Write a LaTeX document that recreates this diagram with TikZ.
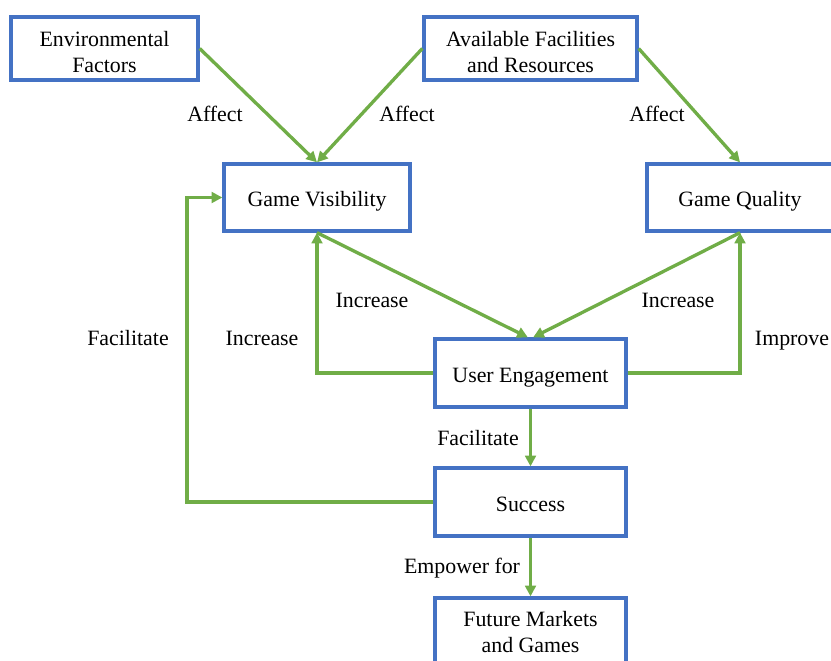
\documentclass[tikz,border=0pt]{standalone}
\usepackage{fontspec}
\setmainfont{Liberation Serif}
\usetikzlibrary{arrows.meta}
\definecolor{boxblue}{RGB}{68,114,196}
\definecolor{arrgreen}{RGB}{112,173,71}
\begin{document}
\begin{tikzpicture}[x=0.75pt,y=-0.75pt,
  box/.style={draw=boxblue,line width=2.5pt,fill=white,inner sep=0pt,align=center,text depth=0pt,
    font=\fontsize{16.4}{19.6}\selectfont},
  onebox/.style={box,text height=14pt,text depth=0pt},
  twobox/.style={box,text height=35.5pt,text depth=0pt},
  conn/.style={draw=arrgreen,line width=2.5pt,-{Triangle[length=8pt,width=8pt]}},
  lbl/.style={inner sep=0pt,text height=11pt,text depth=0pt,font=\fontsize{16.4}{19.5}\selectfont}]
\useasboundingbox (0,0) rectangle (831,660);
\clip (0,0) rectangle (831,660);
\node[twobox,minimum width=140.25pt,minimum height=47.25pt] (env) at (104.5,48.5) {Environmental\\Factors};
\node[twobox,minimum width=159.75pt,minimum height=47.25pt] (avail) at (530.5,48.5) {Available Facilities\\and Resources};
\node[onebox,minimum width=139.5pt,minimum height=50.25pt] (gv) at (317,197.5) {Game Visibility};
\node[onebox,minimum width=139.5pt,minimum height=50.25pt] (gq) at (740,197.5) {Game Quality};
\node[onebox,minimum width=143.25pt,minimum height=51pt] (ue) at (530.5,373) {User Engagement};
\node[onebox,minimum width=143.25pt,minimum height=51pt] (succ) at (530.5,502) {Success};
\node[box,minimum width=143.25pt,minimum height=51pt] (fut) at (530.5,632) {Future Markets\\and Games};

\coordinate (c1) at (317,373);
\coordinate (c2) at (740,373);
\coordinate (c3) at (187,502);

\draw[conn] (env.east) -- (gv.north);
\draw[conn] (avail.west) -- (gv.north);
\draw[conn] (avail.east) -- (gq.north);
\draw[conn] (gv.south) -- ([xshift=-2]ue.north);
\draw[conn] (gq.south) -- ([xshift=2]ue.north);
\draw[conn] (ue.west) -- (c1) -- (gv.south);
\draw[conn] (ue.east) -- (c2) -- (gq.south);
\draw[conn] (ue.south) -- (succ.north);
\draw[conn] (succ.west) -- (c3) |- (gv.west);
\draw[conn] (succ.south) -- (fut.north);

\node[lbl] (l1) at (215,114) {Affect};
\node[lbl] (l2) at (407,114) {Affect};
\node[lbl] (l3) at (657,114) {Affect};
\node[lbl] (l4) at (372,300) {Increase};
\node[lbl] (l5) at (678,300) {Increase};
\node[lbl] (l6) at (262,338) {Increase};
\node[lbl] (l7) at (128,338) {Facilitate};
\node[lbl] (l8) at (792,338) {Improve};
\node[lbl] (l9) at (478,438) {Facilitate};
\node[lbl] (l10) at (462,566) {Empower for};
\end{tikzpicture}
\end{document}
